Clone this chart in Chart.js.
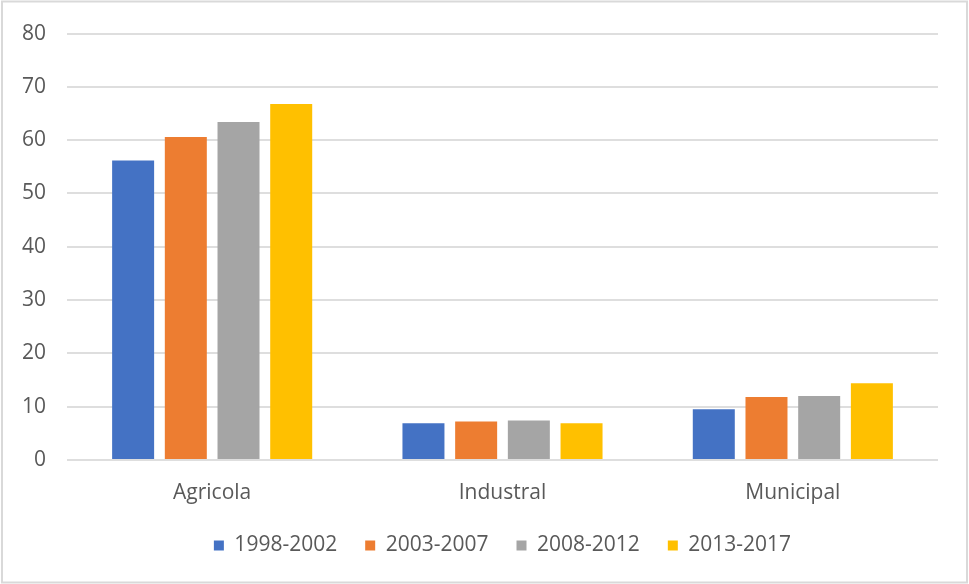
<!DOCTYPE html>
<html>
<head>
<meta charset="utf-8">
<script src="https://cdn.jsdelivr.net/npm/chart.js@4"></script>
<style>
  html, body { margin: 0; padding: 0; background: #fff; }
  #wrap { width: 969px; height: 584px; position: relative; }
</style>
</head>
<body>
<div id="wrap"><canvas id="grafico" width="969" height="584"></canvas></div>
<script>
// categorias e séries
const categorias = ['Agricola', 'Industral', 'Municipal'];
const periodos = ['1998-2002', '2003-2007', '2008-2012', '2013-2017'];
const valores1998 = [56.2, 6.9, 9.5];
const valores2003 = [60.6, 7.2, 11.8];
const valores2008 = [63.4, 7.4, 12.0];
const valores2013 = [66.8, 6.9, 14.4];
const cores = ['#4472C4', '#ED7D31', '#A5A5A5', '#FFC000'];
const series = [valores1998, valores2003, valores2008, valores2013];

const FONTE = { family: 'Open Sans', size: 21 };
const CINZA = '#595959';

// moldura cinza em volta do gráfico
const moldura = {
    id: 'moldura',
    afterDraw(chart) {
        const c = chart.ctx;
        c.save();
        c.strokeStyle = '#d9d9d9';
        c.lineWidth = 2;
        c.strokeRect(2, 1.5, 965, 581);
        c.restore();
    }
};

const ctx = document.getElementById('grafico').getContext('2d');
new Chart(ctx, {
    type: 'bar',
    data: {
        labels: categorias,
        datasets: series.map((dados, i) => ({
            label: periodos[i],
            data: dados,
            backgroundColor: cores[i],
            borderWidth: 0,
            categoryPercentage: 0.726,
            barPercentage: 0.797
        }))
    },
    options: {
        responsive: false,
        animation: false,
        layout: { padding: { top: 31, right: 31, left: 0, bottom: 18 } },
        plugins: {
            legend: {
                position: 'bottom',
                fullSize: false,
                labels: {
                    color: CINZA,
                    font: FONTE,
                    boxWidth: 10,
                    boxHeight: 10,
                    padding: 28
                }
            },
            tooltip: { enabled: false }
        },
        scales: {
            x: {
                grid: { display: false },
                border: { display: false },
                ticks: { color: CINZA, font: FONTE, padding: 12 },
                afterFit(axis) { axis.height = 47; }
            },
            y: {
                min: 0,
                max: 80,
                ticks: { stepSize: 10, color: CINZA, font: FONTE, padding: 21 },
                grid: { color: '#dedede', lineWidth: 2, drawTicks: false },
                border: { display: false },
                afterFit(axis) { axis.width = 67; }
            }
        }
    },
    plugins: [moldura]
});
</script>
</body>
</html>
